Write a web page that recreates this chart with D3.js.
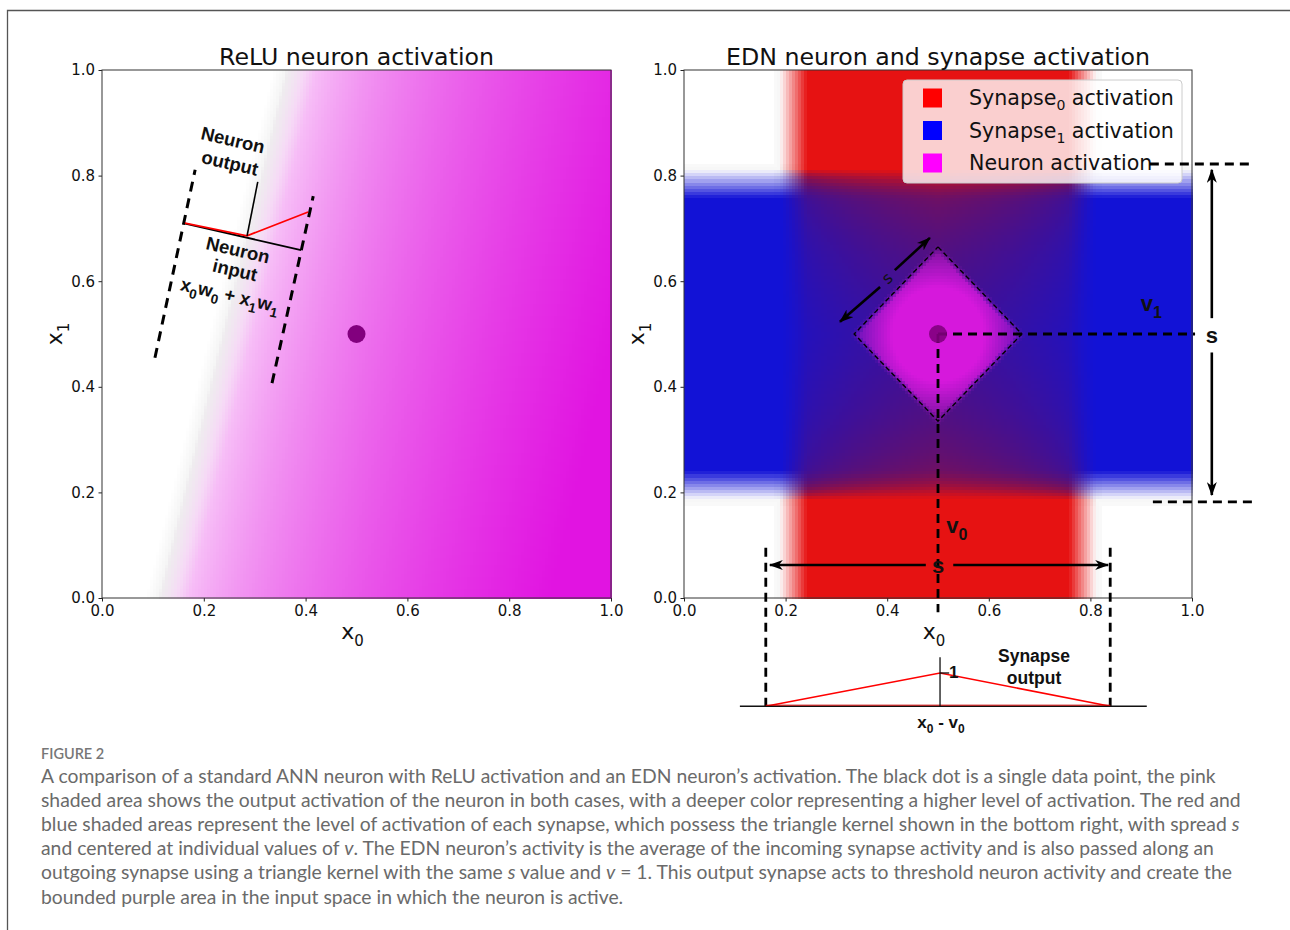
<!DOCTYPE html>
<html>
<head>
<meta charset="utf-8">
<script src="https://cdn.jsdelivr.net/npm/d3@7"></script>
<style>
  body { margin: 0; background: #fff; }
  text { fill: #111; }
</style>
</head>
<body>
<div id="chart"></div>
<script>
// ---- values ----
var xTicks = [0.0, 0.2, 0.4, 0.6, 0.8, 1.0];
var yTicks = [0.0, 0.2, 0.4, 0.6, 0.8, 1.0];
var dataPoint = [0.5, 0.5];

// ReLU neuron (left): zero line runs from about (0.13, 0) to (0.38, 1)
var reluWeights = [1.0, -0.25];
var reluBias = -0.13;
var reluMax = 0.77;

// EDN neuron (right)
var synapseCentres = [0.5, 0.5];   // v0, v1
var spread = 0.68;                 // s = full width of the triangle kernel
var neuronRadius = 0.2;
var diamondRadius = 0.165;

var legendNames = ["Synapse", "Synapse", "Neuron activation"];
var legendSubs = ["0", "1", ""];
var legendColours = ["#ff0000", "#0000ff", "#ff00ff"];

// sketch on the left panel (data units)
var reluDashA = [[0.104, 0.455], [0.183, 0.811]];
var reluDashB = [[0.334, 0.407], [0.415, 0.761]];
var reluInputAxis = [[0.159, 0.710], [0.391, 0.659]];
var reluOutput = [[0.163, 0.710], [0.285, 0.686], [0.405, 0.731]];
var reluPointer = [[0.285, 0.686], [0.306, 0.788]];

// sketch on the right panel (data units)
var kernelBase = [[0.110, -0.205], [0.911, -0.205]];
var kernelShape = [[0.161, -0.205], [0.504, -0.142], [0.839, -0.205]];
var kernelAxis = [[0.504, -0.112], [0.504, -0.205]];
var kernelTick = [[0.504, -0.142], [0.522, -0.142]];

var captionLines = [
  [["A comparison of a standard ANN neuron with ReLU activation and an EDN neuron\u2019s activation. The black dot is a single data point, the pink", 0]],
  [["shaded area shows the output activation of the neuron in both cases, with a deeper color representing a higher level of activation. The red and", 0]],
  [["blue shaded areas represent the level of activation of each synapse, which possess the triangle kernel shown in the bottom right, with spread ", 0], ["s", 1]],
  [["and centered at individual values of ", 0], ["v", 1], [". The EDN neuron\u2019s activity is the average of the incoming synapse activity and is also passed along an", 0]],
  [["outgoing synapse using a triangle kernel with the same ", 0], ["s", 1], [" value and ", 0], ["v", 1], [" = 1. This output synapse acts to threshold neuron activity and create the", 0]],
  [["bounded purple area in the input space in which the neuron is active.", 0]]
];

// ---- layout ----
var plotTop = 70, plotBottom = 598;
var leftX = d3.scaleLinear().domain([0, 1]).range([102, 611]);
var rightX = d3.scaleLinear().domain([0, 1]).range([684, 1192]);
var y = d3.scaleLinear().domain([0, 1]).range([plotBottom, plotTop]);

var svg = d3.select("#chart").append("svg")
  .attr("width", 1290)
  .attr("height", 930);

// arrow head
svg.append("defs").append("marker")
  .attr("id", "head")
  .attr("viewBox", "0 0 14 10")
  .attr("refX", 13).attr("refY", 5)
  .attr("markerWidth", 14).attr("markerHeight", 10)
  .attr("markerUnits", "userSpaceOnUse")
  .attr("orient", "auto")
  .append("path")
  .attr("d", "M0,0 L14,5 L0,10 L4,5 z")
  .attr("fill", "#000");

// figure frame
svg.append("path")
  .attr("d", "M7.5,930 L7.5,10.5 L1290,10.5")
  .attr("fill", "none")
  .attr("stroke", "#555")
  .attr("stroke-width", 1.3);

function clamp(v) { return Math.max(0, Math.min(1, v)); }
function over(c, col, a) {
  return [c[0] + (col[0] - c[0]) * a, c[1] + (col[1] - c[1]) * a, c[2] + (col[2] - c[2]) * a];
}
function rgb(c) { return "rgb(" + Math.round(c[0]) + "," + Math.round(c[1]) + "," + Math.round(c[2]) + ")"; }

var white = [255, 255, 255];
var grey = [200, 200, 200];
var magentaL = [225, 20, 225];
var redC = [230, 18, 18], blueC = [18, 18, 214], magentaR = [214, 24, 220];

function reluColour(p, q) {
  var z = reluWeights[0] * p + reluWeights[1] * q + reluBias + 0.02;
  // faint grey fringe along the zero line
  var c = over(white, grey, 0.22 * clamp(1 - Math.abs(z - 0.005) / 0.03));
  if (z <= 0) return c;
  var a = Math.sqrt(clamp(z / reluMax));
  var g = clamp(1 - z / 0.06);
  var base = [magentaL[0] - 30 * g, magentaL[1] + 150 * g, magentaL[2] - 30 * g];
  return over(c, base, a);
}

function tri(d) { return Math.max(0, 1 - Math.abs(d) / (spread / 2)); }

function ednColour(p, q) {
  var a0 = tri(p - synapseCentres[0]), a1 = tri(q - synapseCentres[1]);
  var fringe = Math.max(clamp(1 - Math.abs(a0 - 0.07) / 0.03), clamp(1 - Math.abs(a1 - 0.07) / 0.03));
  var c = over(white, grey, 0.18 * fringe);
  var r = clamp((a0 - 0.08) / 0.16), bl = clamp((a1 - 0.08) / 0.16);
  var A = 1 - (1 - r) * (1 - bl);
  if (A > 0) {
    // share of blue where the two synapses overlap
    var wr = r * Math.pow(a0, 0.8), wb = bl * 3 * Math.pow(a1, 0.8);
    var f = wb / (wr + wb);
    var mixed = over(redC, blueC, f);
    var dark = 1 - 0.5 * f * (1 - f);
    mixed = [mixed[0] * dark, mixed[1] * dark, mixed[2] * dark];
    c = over(c, mixed, A);
  }
  var dx = p - dataPoint[0], dy = q - dataPoint[1];
  var l1 = Math.abs(dx) + Math.abs(dy), l2 = Math.sqrt(dx * dx + dy * dy);
  var n = clamp((1 - l2 / neuronRadius) * 1.8) * clamp((diamondRadius + 0.008 - l1) / 0.02);
  return over(c, magentaR, n);
}

// grid of cells for the two activation maps
var N = 170;
var cells = [];
d3.range(N).forEach(function (i) {
  d3.range(N).forEach(function (j) {
    cells.push({ i: i, j: j, p: (i + 0.5) / N, q: (j + 0.5) / N });
  });
});

function drawMap(x, colourFn) {
  svg.append("g")
    .attr("shape-rendering", "crispEdges")
    .selectAll("rect")
    .data(cells)
    .enter().append("rect")
    .attr("x", function (d) { return x(d.i / N); })
    .attr("y", function (d) { return y((d.j + 1) / N); })
    .attr("width", function (d) { return x((d.i + 1) / N) - x(d.i / N) + 0.7; })
    .attr("height", function (d) { return y(d.j / N) - y((d.j + 1) / N) + 0.7; })
    .attr("fill", function (d) { return rgb(colourFn(d.p, d.q)); });
}

function subLabel(sel, parts, big, small) {
  parts.forEach(function (pt) {
    var t = sel.append("tspan").text(pt[0]);
    if (pt[1]) {
      t.attr("font-size", small).attr("dy", big * 0.3);
    } else if (pt[2]) {
      t.attr("dy", -big * 0.3);
    }
  });
}

function drawAxes(x, title) {
  var g = svg.append("g").attr("font-family", "DejaVu Sans");

  var xAxis = d3.axisBottom(x).tickValues(xTicks)
    .tickFormat(d3.format(".1f")).tickSize(3.5).tickPadding(3.5).tickSizeOuter(0);
  var yAxis = d3.axisLeft(y).tickValues(yTicks)
    .tickFormat(d3.format(".1f")).tickSize(3.5).tickPadding(3.5).tickSizeOuter(0);

  var gx = g.append("g").attr("transform", "translate(0," + plotBottom + ")").call(xAxis);
  var gy = g.append("g").attr("transform", "translate(" + x(0) + ",0)").call(yAxis);
  [gx, gy].forEach(function (a) {
    a.select(".domain").remove();
    a.selectAll("text").attr("font-size", 15).attr("font-family", "DejaVu Sans").attr("fill", "#111");
    a.selectAll("line").attr("stroke", "#222");
  });

  // frame
  g.append("rect")
    .attr("x", x(0)).attr("y", plotTop)
    .attr("width", x(1) - x(0)).attr("height", plotBottom - plotTop)
    .attr("fill", "none").attr("stroke", "#333").attr("stroke-width", 1);

  g.append("text")
    .attr("x", (x(0) + x(1)) / 2).attr("y", 65)
    .attr("text-anchor", "middle").attr("font-size", 23.7)
    .text(title);

  var xl = g.append("text")
    .attr("x", (x(0) + x(1)) / 2 - 4).attr("y", 639)
    .attr("text-anchor", "middle").attr("font-size", 22);
  subLabel(xl, [["x"], ["0", true]], 22, 15);

  var yl = g.append("text")
    .attr("transform", "translate(" + (x(0) - 40) + "," + ((plotTop + plotBottom) / 2) + ") rotate(-90)")
    .attr("text-anchor", "middle").attr("font-size", 22);
  subLabel(yl, [["x"], ["1", true]], 22, 15);
}

// ---- left panel ----
drawMap(leftX, reluColour);
drawAxes(leftX, "ReLU neuron activation");

var lineL = d3.line().x(function (d) { return leftX(d[0]); }).y(function (d) { return y(d[1]); });
var lineR = d3.line().x(function (d) { return rightX(d[0]); }).y(function (d) { return y(d[1]); });

[reluDashA, reluDashB].forEach(function (d) {
  svg.append("path").attr("d", lineL(d))
    .attr("fill", "none").attr("stroke", "#000")
    .attr("stroke-width", 3).attr("stroke-dasharray", "10,7");
});
svg.append("path").attr("d", lineL(reluInputAxis))
  .attr("fill", "none").attr("stroke", "#000").attr("stroke-width", 1.8);
svg.append("path").attr("d", lineL(reluOutput))
  .attr("fill", "none").attr("stroke", "#f00").attr("stroke-width", 1.8);
svg.append("path").attr("d", lineL(reluPointer))
  .attr("fill", "none").attr("stroke", "#000").attr("stroke-width", 1.6);

svg.append("circle")
  .attr("cx", leftX(dataPoint[0])).attr("cy", y(dataPoint[1]))
  .attr("r", 9).attr("fill", "#82007e");

var sketch = svg.append("g")
  .attr("font-family", "Liberation Sans, Arial, sans-serif")
  .attr("font-weight", "bold");

function rotText(px, py, angle, size) {
  return sketch.append("text")
    .attr("transform", "translate(" + px + "," + py + ") rotate(" + angle + ")")
    .attr("text-anchor", "middle").attr("dy", "0.35em")
    .attr("font-size", size);
}
rotText(233, 140, 13, 18.5).text("Neuron");
rotText(230, 163, 13, 18.5).text("output");
rotText(238, 250, 13, 18.5).text("Neuron");
rotText(235, 270, 13, 18.5).text("input");
var wx = rotText(230, 295, 13, 18.5);
subLabel(wx, [["x"], ["0", true], ["w", false, true], ["0", true], [" + ", false, true], ["x"], ["1", true], ["w", false, true], ["1", true]], 18.5, 13.5);

// ---- right panel ----
drawMap(rightX, ednColour);
drawAxes(rightX, "EDN neuron and synapse activation");

// legend
var leg = svg.append("g").attr("font-family", "DejaVu Sans");
leg.append("rect")
  .attr("x", 903).attr("y", 80).attr("width", 279).attr("height", 103).attr("rx", 4)
  .attr("fill", "#fff").attr("fill-opacity", 0.8)
  .attr("stroke", "#ccc").attr("stroke-width", 1);
legendNames.forEach(function (name, k) {
  var cy = 98 + k * 32.5;
  leg.append("rect")
    .attr("x", 923).attr("y", cy - 9.5).attr("width", 19).attr("height", 19)
    .attr("fill", legendColours[k]);
  var t = leg.append("text").attr("x", 969).attr("y", cy + 7).attr("font-size", 20.6);
  t.append("tspan").text(name);
  if (legendSubs[k]) {
    t.append("tspan").attr("font-size", 14).attr("dy", 5).text(legendSubs[k]);
    t.append("tspan").attr("dy", -5).text(" activation");
  }
});

// diamond where the neuron is active
var cx = dataPoint[0], cyv = dataPoint[1];
var diamond = [[cx, cyv + diamondRadius], [cx + diamondRadius, cyv], [cx, cyv - diamondRadius], [cx - diamondRadius, cyv], [cx, cyv + diamondRadius]];
svg.append("path").attr("d", lineR(diamond))
  .attr("fill", "none").attr("stroke", "#000")
  .attr("stroke-width", 1.4).attr("stroke-dasharray", "5,3");

var thick = { w: 2.8, dash: "9,6" };
function dashR(pts) {
  svg.append("path").attr("d", lineR(pts))
    .attr("fill", "none").attr("stroke", "#000")
    .attr("stroke-width", thick.w).attr("stroke-dasharray", thick.dash);
}
function arrowR(pts) {
  svg.append("path").attr("d", lineR(pts))
    .attr("fill", "none").attr("stroke", "#000")
    .attr("stroke-width", 2.6).attr("marker-end", "url(#head)");
}

// v0 / v1 guides
dashR([[cx, cyv], [1.006, cyv]]);
dashR([[cx, cyv], [cx, -0.027]]);

// spread guides
dashR([[0.161, 0.095], [0.161, -0.205]]);
dashR([[0.839, 0.095], [0.839, -0.205]]);
dashR([[0.917, 0.822], [1.118, 0.822]]);
dashR([[0.923, 0.182], [1.118, 0.182]]);

arrowR([[0.476, 0.0625], [0.169, 0.0625]]);
arrowR([[0.530, 0.0625], [0.835, 0.0625]]);
arrowR([[1.039, 0.530], [1.039, 0.811]]);
arrowR([[1.039, 0.465], [1.039, 0.195]]);
arrowR([[0.386, 0.589], [0.307, 0.523]]);
arrowR([[0.415, 0.621], [0.484, 0.682]]);

svg.append("circle")
  .attr("cx", rightX(dataPoint[0])).attr("cy", y(dataPoint[1]))
  .attr("r", 9).attr("fill", "#82007e").attr("fill-opacity", 0.9);

// kernel sketch below the axis
svg.append("path").attr("d", lineR(kernelShape))
  .attr("fill", "none").attr("stroke", "#f00").attr("stroke-width", 1.6);
svg.append("path").attr("d", lineR(kernelBase))
  .attr("fill", "none").attr("stroke", "#111").attr("stroke-width", 1.6);
svg.append("path").attr("d", lineR([[0.161, -0.203], [0.839, -0.203]]))
  .attr("fill", "none").attr("stroke", "#c00").attr("stroke-width", 1);
svg.append("path").attr("d", lineR(kernelAxis))
  .attr("fill", "none").attr("stroke", "#111").attr("stroke-width", 1.3);
svg.append("path").attr("d", lineR(kernelTick))
  .attr("fill", "none").attr("stroke", "#111").attr("stroke-width", 1.3);

var notes = svg.append("g")
  .attr("font-family", "Liberation Sans, Arial, sans-serif")
  .attr("font-weight", "bold");

function noteR(px, py, size) {
  return notes.append("text")
    .attr("x", rightX(px)).attr("y", y(py))
    .attr("text-anchor", "middle").attr("dy", "0.35em")
    .attr("font-size", size);
}
noteR(0.5, 0.0625, 22).text("s");
noteR(1.039, 0.497, 22).text("s");
subLabel(noteR(0.537, 0.137, 22), [["v"], ["0", true]], 22, 16);
subLabel(noteR(0.92, 0.558, 22), [["v"], ["1", true]], 22, 16);
noteR(0.531, -0.140, 17).text("1");
noteR(0.689, -0.110, 17.5).text("Synapse");
noteR(0.689, -0.152, 17.5).text("output");
subLabel(noteR(0.506, -0.235, 17), [["x"], ["0", true], [" - ", false, true], ["v"], ["0", true]], 17, 12);

notes.append("text")
  .attr("transform", "translate(" + rightX(0.40) + "," + y(0.606) + ") rotate(-42)")
  .attr("text-anchor", "middle").attr("dy", "0.35em")
  .attr("font-weight", "normal").attr("font-family", "DejaVu Sans")
  .attr("font-size", 16).text("s");

// ---- caption ----
var cap = svg.append("g").attr("font-family", "Lato, 'Open Sans', sans-serif");
cap.append("text")
  .attr("x", 41).attr("y", 759)
  .attr("font-size", 14.5).attr("font-weight", 600)
  .style("fill", "#777").text("FIGURE 2");

var capSize = 17.5;
var capTexts = captionLines.map(function (segs, k) {
  var t = cap.append("text")
    .attr("x", 41).attr("y", 783 + k * 24.1)
    .attr("font-size", capSize).style("fill", "#6a6a6a");
  segs.forEach(function (s) {
    var ts = t.append("tspan").text(s[0]);
    if (s[1]) ts.attr("font-style", "italic");
  });
  return t;
});
var len = capTexts[0].node().getComputedTextLength();
var fitted = capSize * 1175 / len;
capTexts.forEach(function (t) { t.attr("font-size", fitted); });
</script>
</body>
</html>
